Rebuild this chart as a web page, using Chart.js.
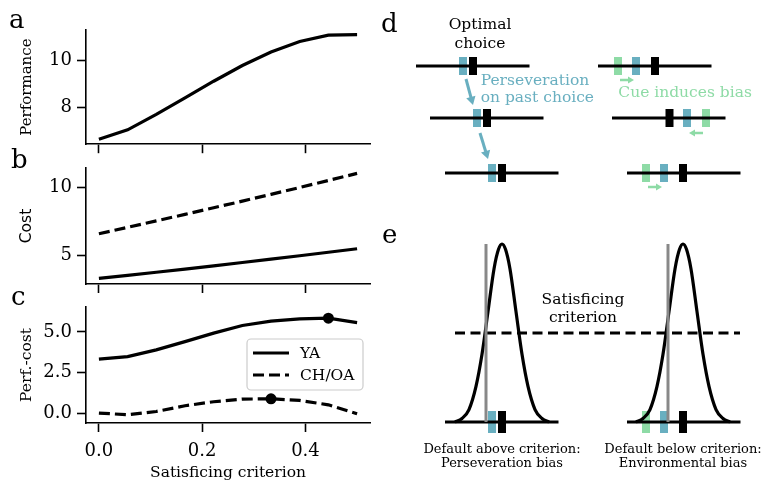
<!DOCTYPE html>
<html>
<head>
<meta charset="utf-8">
<script src="https://cdn.jsdelivr.net/npm/chart.js@4.4.0/dist/chart.umd.min.js"></script>
<style>
  html, body { margin: 0; padding: 0; background: #fff; }
  body { width: 763px; height: 484px; position: relative; overflow: hidden; }
  canvas { position: absolute; }
  #perfChart { left: 0; top: 0; }
  #costChart { left: 0; top: 140px; }
  #netChart { left: 0; top: 280px; }
  #schemeChart { left: 380px; top: 0; }
</style>
</head>
<body>
<canvas id="perfChart" width="380" height="160"></canvas>
<canvas id="costChart" width="380" height="160"></canvas>
<canvas id="netChart" width="380" height="204"></canvas>
<canvas id="schemeChart" width="383" height="480"></canvas>
<script>
// Model results vs. satisficing criterion
const criterion = [0, 0.0556, 0.1111, 0.1667, 0.2222, 0.2778, 0.3333, 0.3889, 0.4444, 0.5];
const perfYA = [6.63, 7.03, 7.69, 8.39, 9.10, 9.77, 10.34, 10.79, 11.06, 11.08];
const costYA = [3.30, 3.52, 3.75, 3.98, 4.22, 4.47, 4.72, 4.97, 5.23, 5.49];
const costOA = [6.60, 7.07, 7.55, 8.03, 8.52, 9.01, 9.51, 10.02, 10.54, 11.06];
const netYA = [3.32, 3.48, 3.89, 4.40, 4.92, 5.39, 5.66, 5.80, 5.84, 5.57];
const netOA = [0.00, -0.10, 0.10, 0.45, 0.70, 0.86, 0.88, 0.78, 0.51, -0.04];

const criterionTicks = [0, 0.2, 0.4];
const perfTicks = [8, 10];
const costTicks = [5, 10];
const netTicks = [0, 2.5, 5];

// Schematic (panel d): three successive trials per column, option space in arbitrary units
const rowLevel = [41.4, 36.2, 30.7];
const lineLength = 11.35;
const persevStart = [3.6, 5.0, 6.5];
const persevPast = [8.3, 9.7, 11.2];
const persevOptimal = [9.3, 10.7, 12.2];
const cueStart = [21.8, 23.2, 24.7];
const cueCue = [23.8, 32.6, 26.6];
const cuePast = [25.6, 30.7, 28.4];
const cueOptimal = [27.5, 28.95, 30.3];
const persevArrows = [[8.6, 40.1, 9.3, 37.5], [10.0, 34.7, 10.8, 32.1]];
const cueArrows = [[24.0, 40.0, 25.4, 40.0], [32.3, 34.7, 30.9, 34.7], [26.8, 29.3, 28.2, 29.3]];

// Schematic (panel e): value distribution around the optimal choice
const baseLevel = 5.8;
const peakLevel = 23.6;
const criterionLevel = 14.7;
const criterionSpan = [7.5, 36.0];
const aboveStart = 6.5, aboveDefault = 10.6, abovePast = 11.2, aboveOptimal = 12.2;
const belowStart = 24.7, belowDefault = 28.8, belowCue = 26.6, belowPast = 28.4, belowOptimal = 30.3;
const bumpOffsets = [-4.7, -4.0, -3.3, -2.6, -2.0, -1.4, -0.8, -0.35, 0, 0.35, 0.8, 1.4, 2.0, 2.6, 3.3, 4.0, 4.7];
const bumpHeights = [0.0, 0.02, 0.07, 0.2, 0.38, 0.62, 0.86, 0.97, 1, 0.97, 0.86, 0.62, 0.38, 0.2, 0.07, 0.02, 0.0];

const TEAL = '#69afc0';
const GREEN = '#8edba6';
const GREY = '#888888';
const SERIF = "'DejaVu Serif'";

Chart.defaults.font.family = SERIF;
Chart.defaults.font.size = 15.5;
Chart.defaults.color = '#000';
Chart.defaults.animation = false;

const toXY = ys => criterion.map((x, i) => ({ x, y: ys[i] }));
const peakOf = ys => {
  const i = ys.indexOf(Math.max(...ys));
  return { x: criterion[i], y: ys[i] };
};
const fixedTicks = values => scale => { scale.ticks = values.map(value => ({ value })); };

const axisLine = {
  grid: { drawOnChartArea: false, tickLength: 9, tickColor: '#000', tickWidth: 1.6 },
  border: { color: '#000', width: 1.6 }
};
const tickFont = { size: 18 };

function xAxis(height, withLabels) {
  const axis = {
    type: 'linear',
    min: -0.025,
    max: 0.525,
    afterBuildTicks: fixedTicks(criterionTicks),
    afterFit: s => { s.height = height; },
    ...axisLine,
    ticks: { padding: 9, maxRotation: 0, font: tickFont, callback: v => withLabels ? v.toFixed(1) : '' }
  };
  if (withLabels) {
    axis.title = { display: true, text: 'Satisficing criterion', padding: { top: 0, bottom: 2 } };
  }
  return axis;
}

function yAxis(min, max, values, label, fmt, font) {
  return {
    min, max,
    afterBuildTicks: fixedTicks(values),
    afterFit: s => { s.width = 86; },
    ...axisLine,
    ticks: { padding: 5, font: tickFont, callback: fmt },
    title: { display: true, text: label, padding: { top: 18, bottom: 0 }, font }
  };
}

function line(label, ys, dashed) {
  return {
    label,
    data: toXY(ys),
    borderColor: '#000',
    borderWidth: 3.2,
    borderDash: dashed ? [11, 5] : [],
    borderCapStyle: 'butt',
    pointRadius: 0,
    tension: 0
  };
}

function panelLetter(letter, x, y) {
  return {
    id: 'panelLetter',
    afterDraw(chart) {
      const { ctx } = chart;
      ctx.save();
      ctx.font = '26px ' + SERIF;
      ctx.fillStyle = '#000';
      ctx.textBaseline = 'alphabetic';
      ctx.fillText(letter, x, y);
      ctx.restore();
    }
  };
}

// legend drawn inside the plot, upper right of the lower curve
const insetLegend = {
  id: 'insetLegend',
  afterDraw(chart) {
    const { ctx } = chart;
    const x = 247, y = 59, w = 116, h = 51;
    ctx.save();
    ctx.beginPath();
    ctx.roundRect(x, y, w, h, 4);
    ctx.fillStyle = 'rgba(255,255,255,0.8)';
    ctx.fill();
    ctx.strokeStyle = '#cccccc';
    ctx.lineWidth = 1.2;
    ctx.stroke();
    chart.data.datasets.filter(d => d.label).forEach((d, i) => {
      const ly = y + 14 + i * 22;
      ctx.beginPath();
      ctx.setLineDash(d.borderDash);
      ctx.lineWidth = d.borderWidth;
      ctx.strokeStyle = d.borderColor;
      ctx.moveTo(x + 6, ly);
      ctx.lineTo(x + 42, ly);
      ctx.stroke();
      ctx.setLineDash([]);
      ctx.fillStyle = '#000';
      ctx.font = '15.5px ' + SERIF;
      ctx.textBaseline = 'middle';
      ctx.fillText(d.label, x + 53, ly + 1);
    });
    ctx.restore();
  }
};

const common = {
  responsive: false,
  maintainAspectRatio: false,
  events: [],
  plugins: { legend: { display: false }, tooltip: { enabled: false } }
};

// a: performance
new Chart(document.getElementById('perfChart'), {
  type: 'line',
  data: { datasets: [line('YA', perfYA, false)] },
  options: {
    ...common,
    layout: { autoPadding: false, padding: { top: 30, right: 10, left: 0, bottom: 0 } },
    scales: {
      x: xAxis(15, false),
      y: yAxis(6.42, 11.28, perfTicks, 'Performance', v => String(v), { size: 15 })
    }
  },
  plugins: [panelLetter('a', 9, 28)]
});

// b: cost
new Chart(document.getElementById('costChart'), {
  type: 'line',
  data: { datasets: [line('YA', costYA, false), line('CH/OA', costOA, true)] },
  options: {
    ...common,
    layout: { autoPadding: false, padding: { top: 28, right: 10, left: 0, bottom: 0 } },
    scales: {
      x: xAxis(16, false),
      y: yAxis(2.88, 11.46, costTicks, 'Cost', v => String(v), { family: "'DejaVu Sans'", size: 15.5 })
    }
  },
  plugins: [panelLetter('b', 11, 28)]
});

// c: performance minus cost, with the optimum of each group marked
new Chart(document.getElementById('netChart'), {
  type: 'line',
  data: {
    datasets: [
      line('YA', netYA, false),
      line('CH/OA', netOA, true),
      {
        data: [peakOf(netYA), peakOf(netOA)],
        showLine: false,
        pointRadius: 5.5,
        pointBackgroundColor: '#000',
        pointBorderWidth: 0
      }
    ]
  },
  options: {
    ...common,
    layout: { autoPadding: false, padding: { top: 27, right: 10, left: 0, bottom: 0 } },
    scales: {
      x: xAxis(61, true),
      y: yAxis(-0.61, 6.53, netTicks, 'Perf.-cost', v => v.toFixed(1))
    }
  },
  plugins: [panelLetter('c', 11, 25), insetLegend]
});

// d / e: schematic of the choice biases
const schemeSets = [];
function stroke(points, color, width, extra) {
  schemeSets.push({
    data: points.map(([x, y]) => ({ x, y })),
    showLine: true,
    borderColor: color,
    borderWidth: width,
    borderCapStyle: 'butt',
    pointRadius: 0,
    tension: 0,
    clip: false,
    ...extra
  });
}
function bar(x, level, half, color) {
  stroke([[x, level - half], [x, level + half]], color, 8);
}
function arrow([x0, y0, x1, y1], color, width, head) {
  const dx = x1 - x0, dy = y1 - y0;
  const len = Math.hypot(dx, dy);
  const back = head / 10;
  const cx = x1 - dx / len * back, cy = y1 - dy / len * back;
  stroke([[x0, y0], [cx, cy]], color, width);
  schemeSets.push({
    data: [{ x: cx, y: cy }],
    showLine: false,
    pointStyle: 'triangle',
    pointRadius: head,
    pointRotation: Math.atan2(dx, dy) * 180 / Math.PI,
    pointBackgroundColor: color,
    pointBorderWidth: 0,
    clip: false
  });
}

// panel d rows
rowLevel.forEach((lv, i) => {
  stroke([[persevStart[i], lv], [persevStart[i] + lineLength, lv]], '#000', 3);
  bar(persevPast[i], lv, 0.9, TEAL);
  bar(persevOptimal[i], lv, 0.9, '#000');
  stroke([[cueStart[i], lv], [cueStart[i] + lineLength, lv]], '#000', 3);
  bar(cueCue[i], lv, 0.9, GREEN);
  bar(cuePast[i], lv, 0.9, TEAL);
  bar(cueOptimal[i], lv, 0.9, '#000');
});
persevArrows.forEach(a => arrow(a, TEAL, 3, 5.5));
cueArrows.forEach(a => arrow(a, GREEN, 2.5, 4));

// panel e
const bump = center => bumpOffsets.map((o, i) => [center + o, baseLevel + bumpHeights[i] * (peakLevel - baseLevel)]);
stroke([[aboveDefault, baseLevel], [aboveDefault, peakLevel]], GREY, 3);
stroke([[belowDefault, baseLevel], [belowDefault, peakLevel]], GREY, 3);
stroke(bump(aboveOptimal), '#000', 3.2, { cubicInterpolationMode: 'monotone' });
stroke(bump(belowOptimal), '#000', 3.2, { cubicInterpolationMode: 'monotone' });
stroke([[criterionSpan[0], criterionLevel], [criterionSpan[1], criterionLevel]], '#000', 3.2, { borderDash: [10, 5.5] });
stroke([[aboveStart, baseLevel], [aboveStart + lineLength, baseLevel]], '#000', 3);
stroke([[belowStart, baseLevel], [belowStart + lineLength, baseLevel]], '#000', 3);
bar(abovePast, baseLevel, 1.1, TEAL);
bar(aboveOptimal, baseLevel, 1.1, '#000');
bar(belowCue, baseLevel, 1.1, GREEN);
bar(belowPast, baseLevel, 1.1, TEAL);
bar(belowOptimal, baseLevel, 1.1, '#000');

const schemeText = {
  id: 'schemeText',
  afterDraw(chart) {
    const { ctx, scales: { x, y } } = chart;
    const put = (text, ux, uy, align, color, size) => {
      ctx.font = size + 'px ' + SERIF;
      ctx.fillStyle = color;
      ctx.textAlign = align;
      ctx.fillText(text, x.getPixelForValue(ux), y.getPixelForValue(uy));
    };
    ctx.save();
    ctx.textBaseline = 'alphabetic';
    put('d', 0.1, 44.83, 'left', '#000', 26);
    put('e', 0.2, 23.7, 'left', '#000', 26);
    put('Optimal', 10.0, 45.07, 'center', '#000', 15.5);
    put('choice', 10.0, 43.17, 'center', '#000', 15.5);
    put('Perseveration', 10.07, 39.5, 'left', TEAL, 15.5);
    put('on past choice', 10.07, 37.83, 'left', TEAL, 15.5);
    put('Cue induces bias', 23.83, 38.33, 'left', GREEN, 15.5);
    put('Satisficing', 20.3, 17.6, 'center', '#000', 15.5);
    put('criterion', 20.3, 15.83, 'center', '#000', 15.5);
    put('Default above criterion:', aboveOptimal, 2.73, 'center', '#000', 13);
    put('Perseveration bias', aboveOptimal, 1.33, 'center', '#000', 13);
    put('Default below criterion:', belowOptimal, 2.73, 'center', '#000', 13);
    put('Environmental bias', belowOptimal, 1.33, 'center', '#000', 13);
    ctx.restore();
  }
};

new Chart(document.getElementById('schemeChart'), {
  type: 'scatter',
  data: { datasets: schemeSets },
  options: {
    ...common,
    layout: { autoPadding: false, padding: 0 },
    scales: {
      x: { type: 'linear', display: false, min: 0, max: 38.3 },
      y: { type: 'linear', display: false, min: 0, max: 48 }
    }
  },
  plugins: [schemeText]
});
</script>
</body>
</html>
